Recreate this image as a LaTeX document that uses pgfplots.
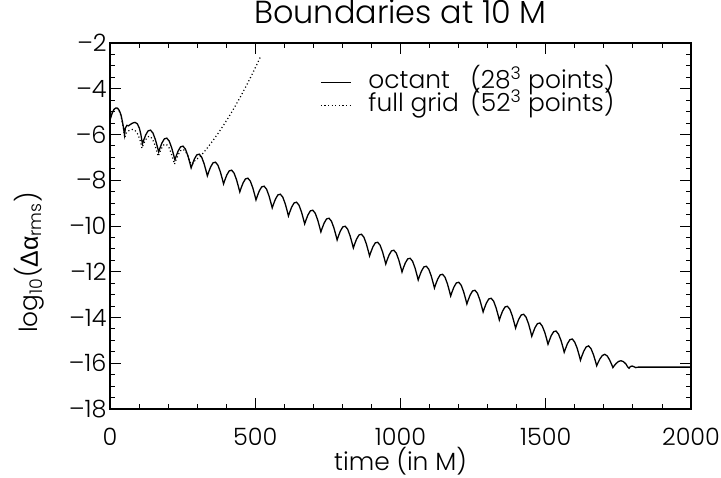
\documentclass[border=0pt]{standalone}
\usepackage{fontspec}
\setmainfont{Poppins}[UprightFont=* Light]
\newfontfamily\grk{Liberation Sans}
\usepackage{pgfplots}
\pgfplotsset{compat=1.18}

\begin{document}
\begin{tikzpicture}
\begin{axis}[
  scale only axis, width=581bp, height=366bp,
  xmin=0, xmax=2000, ymin=-18, ymax=-2,
  xtick={0,500,1000,1500,2000}, xticklabels={0,500,1000,1500,2000},
  ytick={-18,-16,-14,-12,-10,-8,-6,-4,-2},
  yticklabels={–18,–16,–14,–12,–10,–8,–6,–4,–2},
  minor x tick num=4, minor y tick num=3,
  tick align=inside, major tick length=11bp, minor tick length=5.5bp,
  tick style={black, line width=0.9bp},
  axis line style={line width=1.2bp},
  tick label style={font=\fontsize{24}{30}\selectfont},
  xticklabel style={anchor=base, yshift=-36bp},
  title={Boundaries at 10 M},
  title style={font=\fontsize{32}{38}\selectfont,
    at={(0.5,1)}, anchor=base, yshift=14bp, inner sep=0pt},
  xlabel={time (in M)},
  xlabel style={font=\fontsize{25}{32}\selectfont, at={(0.5,0)}, anchor=base,
    yshift=-61bp, inner sep=0pt},
  ylabel={log\textsubscript{10}({\grk Δα}\textsubscript{rms})},
  ylabel style={font=\fontsize{25}{32}\selectfont,
    at={(axis description cs:-0.124,0.40)}, anchor=base, inner sep=0pt},
  legend style={draw=none, fill=none, at={(0.3614,0.9235)}, anchor=north west,
    inner sep=0pt, row sep=0pt, column sep=0pt,
    font=\fontsize{25}{25}\selectfont,
    nodes={inner sep=0pt, text height=17bp, text depth=5bp}},
  legend cell align=left,
]
\addplot[black, line width=1.3bp,
  legend image code/.code={\draw[black, line width=1.3bp] (0bp,0bp) -- (30bp,0bp);}] table {
x y
0 -4.6
1.5 -5.3
4 -5.2
8 -5.05
14 -4.9
20 -4.84
26 -4.85
32 -4.95
38 -5.15
43 -5.45
47 -5.75
50 -6.02
53 -5.72
58 -5.6
64 -5.62
70 -5.56
78 -5.5
86 -5.47
94 -5.53
101 -5.72
106 -5.98
111.7 -6.41
116.2 -6.24
122.9 -6.02
131.2 -5.84
139.6 -5.81
148.0 -5.94
156.4 -6.23
163.1 -6.54
167.6 -6.76
172.1 -6.59
178.8 -6.37
187.1 -6.19
195.5 -6.16
203.9 -6.29
212.3 -6.58
219.0 -6.89
223.4 -7.11
227.9 -6.94
234.6 -6.72
242.9 -6.54
251.3 -6.51
259.7 -6.64
268.1 -6.93
274.8 -7.24
279.3 -7.46
283.8 -7.29
290.5 -7.07
298.8 -6.89
307.2 -6.86
315.6 -6.99
324.0 -7.28
330.7 -7.59
335.1 -7.81
339.6 -7.64
346.3 -7.42
354.6 -7.24
363.0 -7.21
371.4 -7.34
379.8 -7.63
386.5 -7.94
390.9 -8.16
395.4 -7.99
402.1 -7.77
410.4 -7.59
418.8 -7.56
427.2 -7.69
435.6 -7.98
442.3 -8.29
446.8 -8.51
451.3 -8.34
458.0 -8.12
466.3 -7.94
474.7 -7.91
483.1 -8.04
491.5 -8.33
498.2 -8.64
502.6 -8.86
507.1 -8.69
513.8 -8.47
522.1 -8.29
530.5 -8.26
538.9 -8.39
547.3 -8.68
554.0 -8.99
558.5 -9.21
563.0 -9.04
569.7 -8.82
578.0 -8.64
586.4 -8.61
594.8 -8.74
603.2 -9.03
609.9 -9.34
614.3 -9.56
618.8 -9.39
625.5 -9.17
633.8 -8.99
642.2 -8.96
650.6 -9.09
659.0 -9.38
665.7 -9.69
670.1 -9.91
674.6 -9.74
681.3 -9.52
689.6 -9.34
698.0 -9.31
706.4 -9.44
714.8 -9.73
721.5 -10.04
726.0 -10.26
730.5 -10.09
737.2 -9.87
745.5 -9.69
753.9 -9.66
762.3 -9.79
770.7 -10.08
777.4 -10.39
781.8 -10.61
786.3 -10.44
793.0 -10.22
801.3 -10.04
809.7 -10.01
818.1 -10.14
826.5 -10.43
833.2 -10.74
837.7 -10.96
842.2 -10.79
848.9 -10.57
857.2 -10.39
865.6 -10.36
874.0 -10.49
882.4 -10.78
889.1 -11.09
893.5 -11.31
898.0 -11.14
904.7 -10.92
913.0 -10.74
921.4 -10.71
929.8 -10.84
938.2 -11.13
944.9 -11.44
949.3 -11.66
953.8 -11.49
960.5 -11.27
968.8 -11.09
977.2 -11.06
985.6 -11.19
994.0 -11.48
1000.7 -11.79
1005.2 -12.01
1009.7 -11.84
1016.4 -11.62
1024.7 -11.44
1033.1 -11.41
1041.5 -11.54
1049.9 -11.83
1056.6 -12.14
1061.0 -12.36
1065.5 -12.19
1072.2 -11.97
1080.5 -11.79
1088.9 -11.76
1097.3 -11.89
1105.7 -12.18
1112.4 -12.49
1116.9 -12.71
1121.4 -12.54
1128.1 -12.32
1136.4 -12.14
1144.8 -12.11
1153.2 -12.24
1161.6 -12.53
1168.3 -12.84
1172.7 -13.06
1177.2 -12.89
1183.9 -12.67
1192.2 -12.49
1200.6 -12.46
1209.0 -12.59
1217.4 -12.88
1224.1 -13.19
1228.5 -13.41
1233.0 -13.24
1239.7 -13.02
1248.0 -12.84
1256.4 -12.81
1264.8 -12.94
1273.2 -13.23
1279.9 -13.54
1284.4 -13.76
1288.9 -13.59
1295.6 -13.37
1303.9 -13.19
1312.3 -13.16
1320.7 -13.29
1329.1 -13.58
1335.8 -13.89
1340.2 -14.11
1344.7 -13.94
1351.4 -13.72
1359.7 -13.54
1368.1 -13.51
1376.5 -13.64
1384.9 -13.93
1391.6 -14.24
1396.1 -14.46
1400.6 -14.29
1407.3 -14.07
1415.6 -13.89
1424.0 -13.86
1432.4 -13.99
1440.8 -14.28
1447.5 -14.59
1451.9 -14.82
1456.4 -14.66
1463.1 -14.44
1471.4 -14.27
1479.8 -14.24
1488.2 -14.38
1496.6 -14.65
1503.3 -14.95
1507.7 -15.17
1512.2 -15.01
1518.9 -14.79
1527.2 -14.62
1535.6 -14.59
1544.0 -14.73
1552.4 -15.00
1559.1 -15.30
1563.6 -15.52
1568.1 -15.36
1574.8 -15.14
1583.1 -14.97
1591.5 -14.94
1599.9 -15.08
1608.3 -15.35
1615.0 -15.65
1619.4 -15.87
1623.9 -15.70
1630.6 -15.48
1638.9 -15.29
1647.3 -15.24
1655.7 -15.36
1664.1 -15.62
1670.8 -15.90
1675.3 -16.11
1679.8 -15.98
1686.5 -15.81
1694.8 -15.66
1703.2 -15.61
1711.6 -15.68
1720.0 -15.86
1726.7 -16.05
1731.1 -16.19
1735.6 -16.11
1742.3 -16.01
1750.6 -15.92
1759.0 -15.89
1767.4 -15.93
1775.8 -16.03
1782.5 -16.17
1786.9 -16.22
1791 -16.15
1797 -16.12
1803 -16.15
1810 -16.19
1818 -16.17
2000 -16.17
};
\addlegendentry{\hspace{17bp}\makebox[102bp][l]{octant}(28\textsuperscript{3} points)}
\addplot[black, line width=1.2bp, dash pattern=on 1.1bp off 2.5bp,
  legend image code/.code={\path[draw=none] (0bp,0bp) rectangle (30bp,12bp);
    \draw[black, line width=1.2bp, dash pattern=on 1.1bp off 2.5bp] (0bp,0bp) -- (30bp,0bp);}] table {
x y
0 -4.6
1.5 -5.3
4 -5.2
8 -5.05
14 -4.9
20 -4.85
26 -4.87
32 -4.98
38 -5.2
43 -5.5
47 -5.8
51 -6.15
55 -5.95
62 -5.85
70 -5.8
78 -5.78
86 -5.82
94 -5.95
101 -6.15
106 -6.35
110 -6.6
114.5 -6.45
121.2 -6.26
129.6 -6.10
138 -6.08
146.4 -6.20
154.8 -6.47
161.5 -6.75
166 -6.95
170.5 -6.80
177.2 -6.61
185.6 -6.45
194 -6.43
202.4 -6.55
210.8 -6.82
217.5 -7.10
222 -7.3
226.7 -7.13
233.8 -6.91
242.7 -6.71
251.5 -6.65
260.4 -6.74
269.2 -6.97
276.3 -7.22
281 -7.4
288 -7.2
296 -7.1
310 -6.97
330 -6.67
350 -6.34
370 -5.99
390 -5.61
410 -5.21
430 -4.78
450 -4.33
470 -3.85
490 -3.35
510 -2.82
520 -2.54
};
\addlegendentry{\hspace{17bp}\makebox[102bp][l]{full grid}(52\textsuperscript{3} points)}
\end{axis}
\pgfresetboundingbox
\path ([shift={(-110bp,-69bp)}]current axis.south west) rectangle ([shift={(30bp,43bp)}]current axis.north east);
\end{tikzpicture}
\end{document}
